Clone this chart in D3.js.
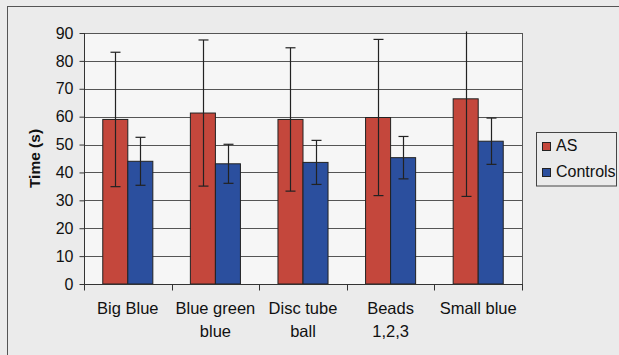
<!DOCTYPE html>
<html><head><meta charset="utf-8">
<script src="https://cdn.jsdelivr.net/npm/d3@7"></script>
<style>body{margin:0;background:#ebebeb;}svg{display:block;}</style>
</head><body>
<script>
const categories = [["Big Blue"], ["Blue green", "blue"], ["Disc tube", "ball"], ["Beads", "1,2,3"], ["Small blue"]];
const seriesNames = ["AS", "Controls"];
const asValues = [59, 61.3, 59, 59.7, 66.4];
const asErrors = [24.1, 26.2, 25.7, 28.0, 35.0];
const ctrlValues = [44, 43.1, 43.6, 45.3, 51.2];
const ctrlErrors = [8.6, 7.0, 7.9, 7.6, 8.3];
const yTicks = [0, 10, 20, 30, 40, 50, 60, 70, 80, 90];
const colors = ["#c4473c", "#2b4f9e"];

(function() {
const W = 619, H = 355;
const FONT = "Liberation Sans, Arial, sans-serif";
const svg = d3.select("body").append("svg").attr("width", W).attr("height", H);
svg.append("rect").attr("width", W).attr("height", H).attr("fill", "#ebebeb");
// outer chart border
svg.append("rect").attr("x", 7.5).attr("y", 6.5).attr("width", 640).attr("height", 400)
  .attr("fill", "none").attr("stroke", "#555").attr("stroke-width", 1);

const pL = 84, pR = 522, pT = 33, pB = 284;
const y = d3.scaleLinear().domain([0, 90]).range([pB, pT]);
const x0 = d3.scaleBand().domain(d3.range(categories.length)).range([pL, pR]).paddingInner(0).paddingOuter(0);
const x1 = d3.scaleBand().domain([0, 1]).range([0, x0.bandwidth()]).paddingOuter(0.75).paddingInner(0);

const g = svg.append("g");
g.append("rect").attr("x", pL).attr("y", pT).attr("width", pR - pL).attr("height", pB - pT).attr("fill", "#f6f6f6");

// gridlines
g.selectAll("line.grid").data(yTicks.filter(d => d > 0)).join("line")
  .attr("x1", pL).attr("x2", pR).attr("y1", d => Math.round(y(d)) + 0.5).attr("y2", d => Math.round(y(d)) + 0.5)
  .attr("stroke", "#555").attr("stroke-width", 1);
// right border
g.append("line").attr("x1", pR + 0.5).attr("x2", pR + 0.5).attr("y1", pT).attr("y2", pB).attr("stroke", "#555");

const series = [
  {vals: asValues, errs: asErrors},
  {vals: ctrlValues, errs: ctrlErrors}
];
series.forEach((s, si) => {
  const gs = g.append("g");
  gs.selectAll("rect").data(s.vals).join("rect")
    .attr("x", (d, i) => x0(i) + x1(si))
    .attr("y", d => y(d))
    .attr("width", x1.bandwidth())
    .attr("height", d => pB - y(d))
    .attr("fill", colors[si]).attr("stroke", "#222").attr("stroke-width", 1);
});
series.forEach((s, si) => {
  s.vals.forEach((v, i) => {
    const cx = Math.round(x0(i) + x1(si) + x1.bandwidth() / 2) + 0.5;
    const hi = v + s.errs[i], lo = v - s.errs[i];
    const yHi = Math.max(y(hi), pT - 1.5);
    g.append("line").attr("x1", cx).attr("x2", cx).attr("y1", yHi).attr("y2", y(lo)).attr("stroke", "#222").attr("stroke-width", 1.2);
    if (hi <= 90) g.append("line").attr("x1", cx - 5).attr("x2", cx + 5).attr("y1", y(hi)).attr("y2", y(hi)).attr("stroke", "#222").attr("stroke-width", 1.2);
    g.append("line").attr("x1", cx - 5).attr("x2", cx + 5).attr("y1", y(lo)).attr("y2", y(lo)).attr("stroke", "#222").attr("stroke-width", 1.2);
  });
});

// y axis
const yAxis = d3.axisLeft(y).tickValues(yTicks).tickSize(5).tickPadding(6);
const ya = svg.append("g").attr("transform", `translate(${pL + 0.5},0)`).call(yAxis);
ya.select(".domain").attr("stroke", "#333").attr("d", `M0,${pT}V${pB}`);
ya.selectAll(".tick line").attr("stroke", "#333");
ya.selectAll(".tick text").attr("font-family", FONT).attr("font-size", 16).attr("fill", "#111");

// x axis
const xb = svg.append("g").attr("transform", `translate(0,${pB + 0.5})`);
xb.append("line").attr("x1", pL).attr("x2", pR + 1).attr("y1", 0).attr("y2", 0).attr("stroke", "#333");
xb.selectAll("line.tk").data(d3.range(categories.length + 1)).join("line")
  .attr("x1", i => Math.round(pL + i * x0.bandwidth()) + 0.5).attr("x2", i => Math.round(pL + i * x0.bandwidth()) + 0.5)
  .attr("y1", 0).attr("y2", 6).attr("stroke", "#333");
const xt = xb.selectAll("text").data(categories).join("text")
  .attr("x", (d, i) => x0(i) + x0.bandwidth() / 2)
  .attr("y", 29.5)
  .attr("text-anchor", "middle")
  .attr("font-family", FONT).attr("font-size", 16.5).attr("fill", "#111");
xt.selectAll("tspan").data(d => d).join("tspan")
  .attr("x", function() { return d3.select(this.parentNode).attr("x"); })
  .attr("dy", (d, i) => i === 0 ? 0 : 22.7)
  .text(d => d);

// y title
svg.append("text").attr("transform", `translate(40,${(pT + pB) / 2}) rotate(-90)`)
  .attr("text-anchor", "middle").attr("font-family", FONT)
  .attr("font-size", 15.5).attr("font-weight", "bold").attr("fill", "#111").text("Time (s)");

// legend
const lg = svg.append("g");
lg.append("rect").attr("x", 536.5).attr("y", 132.5).attr("width", 80).attr("height", 53.5)
  .attr("fill", "#ebebeb").attr("stroke", "#444");
seriesNames.forEach((n, i) => {
  lg.append("rect").attr("x", 542.5).attr("y", 142.5 + i * 26).attr("width", 8).attr("height", 8)
    .attr("fill", colors[i]).attr("stroke", "#222");
  lg.append("text").attr("x", 556).attr("y", 151 + i * 26).attr("font-family", FONT)
    .attr("font-size", 16).attr("fill", "#111").text(n);
});
})();
</script>
</body></html>
